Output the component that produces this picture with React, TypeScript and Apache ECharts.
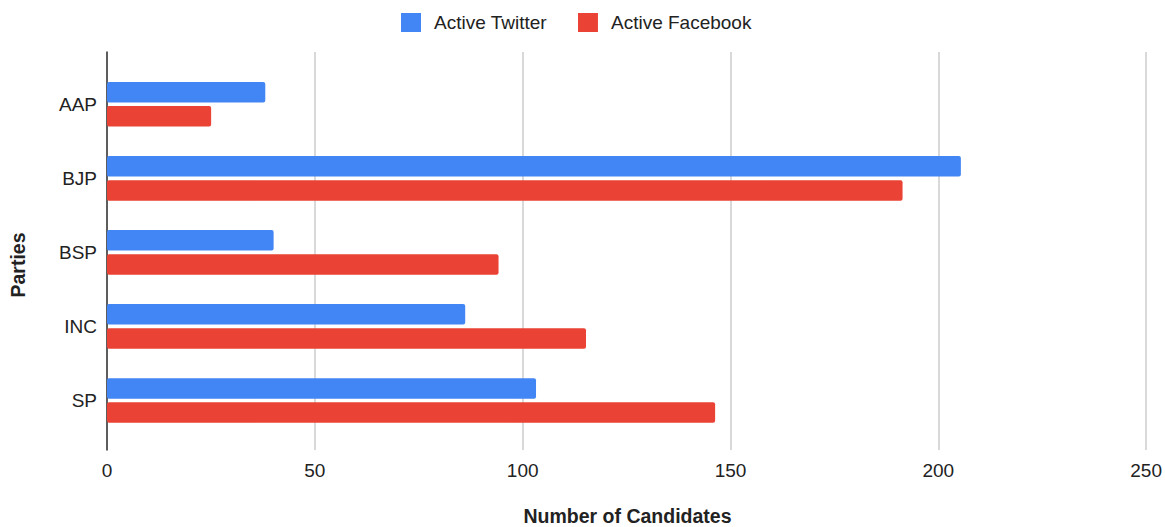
import React, { useEffect, useRef } from "react";
import * as echarts from "echarts";

const parties = ["AAP", "BJP", "BSP", "INC", "SP"];
const activeTwitter = [38, 205, 40, 86, 103];
const activeFacebook = [25, 191, 94, 115, 146];
const xTicks = [0, 50, 100, 150, 200, 250];

const FONT = 'Arial, "Liberation Sans", sans-serif';
const TEXT = "#222";

export default function App() {
  const ref = useRef<HTMLDivElement>(null);

  useEffect(() => {
    if (!ref.current) return;
    const chart = echarts.init(ref.current, undefined, { renderer: "svg" });
    const plotLeft = 107;
    const plotRight = 1165 - 1148.3;

    chart.setOption({
      animation: false,
      backgroundColor: "#ffffff",
      textStyle: { fontFamily: FONT },
      legend: {
        top: 13,
        left: 401,
        padding: 0,
        itemWidth: 20,
        itemHeight: 19,
        itemGap: 31,
        icon: "rect",
        textStyle: { fontSize: 19, color: TEXT, fontFamily: FONT, padding: [0, 0, 0, 8] },
        data: ["Active Twitter", "Active Facebook"],
      },
      grid: [
        // frame: gridlines, tick labels and the vertical axis line
        { left: plotLeft, right: plotRight, top: 52, bottom: 77 },
        // category bands holding the bars
        { left: plotLeft, right: plotRight, top: 67.2, bottom: 527 - 437.5 },
      ],
      xAxis: [
        {
          gridIndex: 0,
          type: "value",
          min: xTicks[0],
          max: xTicks[xTicks.length - 1],
          interval: 50,
          axisLine: { show: false },
          axisTick: { show: false },
          axisLabel: { fontSize: 19, color: TEXT, margin: 11, fontFamily: FONT },
          splitLine: { show: true, lineStyle: { color: "#cccccc", width: 1.5 } },
        },
        {
          gridIndex: 1,
          type: "value",
          min: xTicks[0],
          max: xTicks[xTicks.length - 1],
          show: false,
        },
      ],
      yAxis: [
        {
          gridIndex: 0,
          type: "value",
          min: 0,
          max: 1,
          axisLine: { show: true, onZero: false, lineStyle: { color: "#333333", width: 1.5 } },
          axisTick: { show: false },
          axisLabel: { show: false },
          splitLine: { show: false },
        },
        {
          gridIndex: 1,
          type: "category",
          inverse: true,
          data: parties,
          axisLine: { show: false },
          axisTick: { show: false },
          axisLabel: { fontSize: 19, color: TEXT, margin: 10, fontFamily: FONT },
          splitLine: { show: false },
        },
      ],
      series: [
        {
          name: "Active Twitter",
          type: "bar",
          xAxisIndex: 1,
          yAxisIndex: 1,
          data: activeTwitter,
          barWidth: 20.5,
          barGap: "18%",
          itemStyle: { color: "#4285F4", borderRadius: 2 },
        },
        {
          name: "Active Facebook",
          type: "bar",
          xAxisIndex: 1,
          yAxisIndex: 1,
          data: activeFacebook,
          barWidth: 20.5,
          barGap: "18%",
          itemStyle: { color: "#EA4335", borderRadius: 2 },
        },
      ],
      graphic: [
        {
          type: "text",
          x: 627.5,
          y: 516,
          style: {
            text: "Number of Candidates",
            font: `bold 19.5px ${FONT}`,
            fill: TEXT,
            align: "center",
            verticalAlign: "middle",
          },
        },
        {
          type: "text",
          x: 18,
          y: 265,
          rotation: Math.PI / 2,
          style: {
            text: "Parties",
            font: `bold 19.5px ${FONT}`,
            fill: TEXT,
            align: "center",
            verticalAlign: "middle",
          },
        },
      ],
    });

    return () => chart.dispose();
  }, []);

  return (
    <div
      ref={ref}
      style={{ position: "fixed", left: 0, top: 0, width: 1165, height: 527 }}
    />
  );
}
